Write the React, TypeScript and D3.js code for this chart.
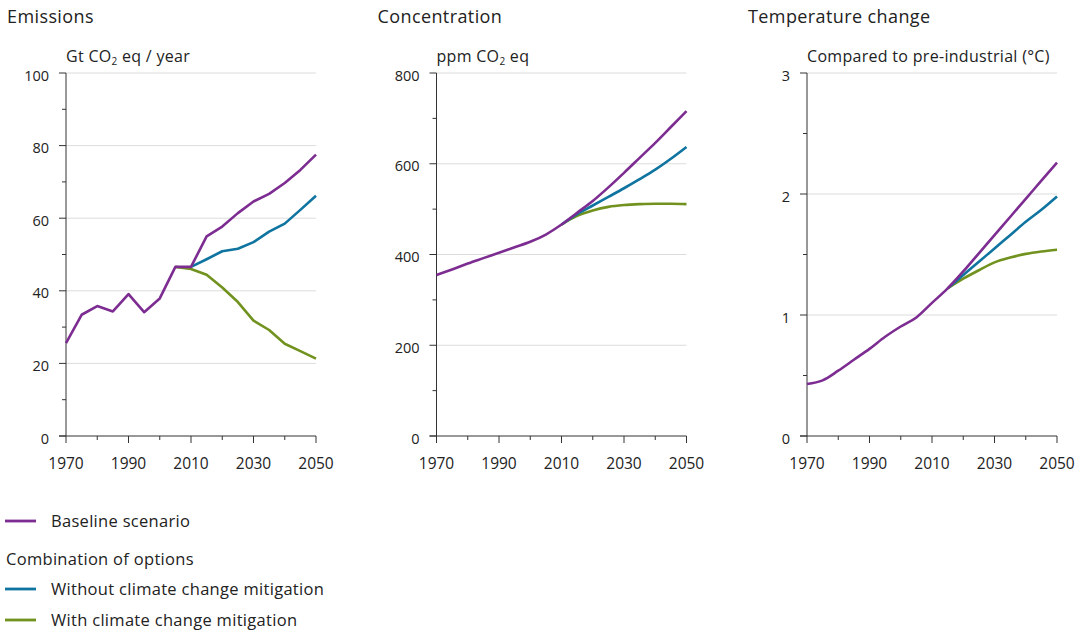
import React from "react";
import * as d3 from "d3";

const years = [1970, 1975, 1980, 1985, 1990, 1995, 2000, 2005, 2010, 2015, 2020, 2025, 2030, 2035, 2040, 2045, 2050];

// Emissions (Gt CO2 eq / year)
const emBaseline = [25.6, 33.4, 35.8, 34.3, 39.1, 34.1, 37.9, 46.6, 46.6, 55.0, 57.7, 61.4, 64.6, 66.7, 69.7, 73.3, 77.5];
const emWithout = [null, null, null, null, null, null, null, null, 46.6, 48.7, 50.9, 51.6, 53.4, 56.3, 58.5, 62.3, 66.2];
const emWith = [null, null, null, null, null, null, null, 46.6, 46.0, 44.4, 40.9, 36.9, 31.8, 29.2, 25.4, 23.4, 21.3];

// Concentration (ppm CO2 eq)
const coBaseline = [355, 367, 380, 392, 404, 416, 428, 444, 466, 492, 518, 548, 580, 613, 646, 681, 716];
const coWithout = [null, null, null, null, null, null, null, null, 466, 489, 508, 527, 546, 566, 587, 611, 637];
const coWith = [null, null, null, null, null, null, null, null, 466, 485, 497, 505, 509, 511, 512, 512, 511];

// Temperature change (°C compared to pre-industrial)
const teBaseline = [0.43, 0.46, 0.54, 0.63, 0.72, 0.82, 0.905, 0.98, 1.1, 1.22, 1.36, 1.51, 1.66, 1.81, 1.96, 2.11, 2.26];
const teWithout = [null, null, null, null, null, null, null, null, null, 1.22, 1.33, 1.44, 1.55, 1.66, 1.77, 1.87, 1.98];
const teWith = [null, null, null, null, null, null, null, null, null, 1.22, 1.30, 1.37, 1.435, 1.475, 1.505, 1.525, 1.54];

const xLabels = [1970, 1990, 2010, 2030, 2050];

const COLORS = { baseline: "#7d2d91", without: "#0f74a0", with: "#71921f" };
const FONT = "'Open Sans', 'Noto Sans', sans-serif";
const TEXT = "#222";

type PanelProps = {
  left: number;
  title: string;
  subtitle: React.ReactNode;
  max: number;
  major: number[];
  minor: number[];
  series: { values: (number | null)[]; color: string }[];
  smooth: boolean;
};

function Panel({ left, title, subtitle, max, major, minor, series, smooth }: PanelProps) {
  const x = d3.scaleLinear().domain([1970, 2050]).range([left, left + 250]);
  const y = d3.scaleLinear().domain([0, max]).range([436, 73]);
  const line = d3
    .line<[number, number | null]>()
    .defined((d) => d[1] != null)
    .x((d) => x(d[0]))
    .y((d) => y(d[1] as number))
    .curve(smooth ? d3.curveMonotoneX : d3.curveLinear);
  const tenYears = d3.range(1970, 2051, 10);
  return (
    <g>
      <text x={left - 59} y={23} fontSize={18} letterSpacing={0.4} fill={TEXT} fontFamily={FONT}>{title}</text>
      <text x={left} y={61.5} fontSize={16} letterSpacing={0.3} fill={TEXT} fontFamily={FONT}>{subtitle}</text>
      {major.filter((v) => v > 0).map((v) => (
        <line key={"g" + v} x1={left} x2={left + 250} y1={y(v)} y2={y(v)} stroke="#dcdcdc" strokeWidth={1} />
      ))}
      {major.map((v) => (
        <g key={"m" + v}>
          <line x1={left - 7} x2={left} y1={y(v)} y2={y(v)} stroke="#333" strokeWidth={1} />
          <text x={left - 17} y={y(v) + 7.5} textAnchor="end" fontSize={14.5} fill={TEXT} fontFamily={FONT}>
            {v}
          </text>
        </g>
      ))}
      {minor.map((v) => (
        <line key={"n" + v} x1={left - 4} x2={left} y1={y(v)} y2={y(v)} stroke="#333" strokeWidth={1} />
      ))}
      <line x1={left} x2={left} y1={73} y2={436} stroke="#333" strokeWidth={1} />
      <line x1={left - 7} x2={left + 250} y1={436} y2={436} stroke="#333" strokeWidth={1} />
      {tenYears.map((yr) => (
        <line key={"t" + yr} x1={x(yr)} x2={x(yr)} y1={436} y2={xLabels.includes(yr) ? 443 : 440} stroke="#333" strokeWidth={1} />
      ))}
      {xLabels.map((yr) => (
        <text key={"l" + yr} x={x(yr)} y={468.5} textAnchor="middle" fontSize={15.5} fill={TEXT} fontFamily={FONT}>
          {yr}
        </text>
      ))}
      {series.map((s, i) => (
        <path
          key={i}
          d={line(years.map((yr, j) => [yr, s.values[j]] as [number, number | null])) || ""}
          fill="none"
          stroke={s.color}
          strokeWidth={2.6}
          strokeLinejoin="round"
        />
      ))}
    </g>
  );
}

export default function App() {
  const sub = (main: string, rest: string) => (
    <>
      {main}
      <tspan fontSize={10} dy={3}>2</tspan>
      <tspan dy={-3}>{rest}</tspan>
    </>
  );
  return (
    <svg width={1087} height={632} style={{ position: "absolute", left: 0, top: 0, background: "#fff" }}>
      <Panel
        left={66}
        title="Emissions"
        subtitle={sub("Gt CO", " eq / year")}
        max={100}
        major={[0, 20, 40, 60, 80, 100]}
        minor={[10, 30, 50, 70, 90]}
        smooth={false}
        series={[
          { values: emWith, color: COLORS.with },
          { values: emWithout, color: COLORS.without },
          { values: emBaseline, color: COLORS.baseline },
        ]}
      />
      <Panel
        left={436.5}
        title="Concentration"
        subtitle={sub("ppm CO", " eq")}
        max={800}
        major={[0, 200, 400, 600, 800]}
        minor={[100, 300, 500, 700]}
        smooth={true}
        series={[
          { values: coWith, color: COLORS.with },
          { values: coWithout, color: COLORS.without },
          { values: coBaseline, color: COLORS.baseline },
        ]}
      />
      <Panel
        left={807}
        title="Temperature change"
        subtitle="Compared to pre-industrial (°C)"
        max={3}
        major={[0, 1, 2, 3]}
        minor={[0.5, 1.5, 2.5]}
        smooth={true}
        series={[
          { values: teWith, color: COLORS.with },
          { values: teWithout, color: COLORS.without },
          { values: teBaseline, color: COLORS.baseline },
        ]}
      />
      <g fontFamily={FONT} fontSize={16.5} letterSpacing={0.3} fill={TEXT}>
        <line x1={5} x2={36} y1={521} y2={521} stroke={COLORS.baseline} strokeWidth={2.8} />
        <text x={51} y={527}>Baseline scenario</text>
        <text x={6} y={565}>Combination of options</text>
        <line x1={5} x2={36} y1={589} y2={589} stroke={COLORS.without} strokeWidth={2.8} />
        <text x={51} y={595}>Without climate change mitigation</text>
        <line x1={5} x2={36} y1={620} y2={620} stroke={COLORS.with} strokeWidth={2.8} />
        <text x={51} y={626}>With climate change mitigation</text>
      </g>
    </svg>
  );
}
